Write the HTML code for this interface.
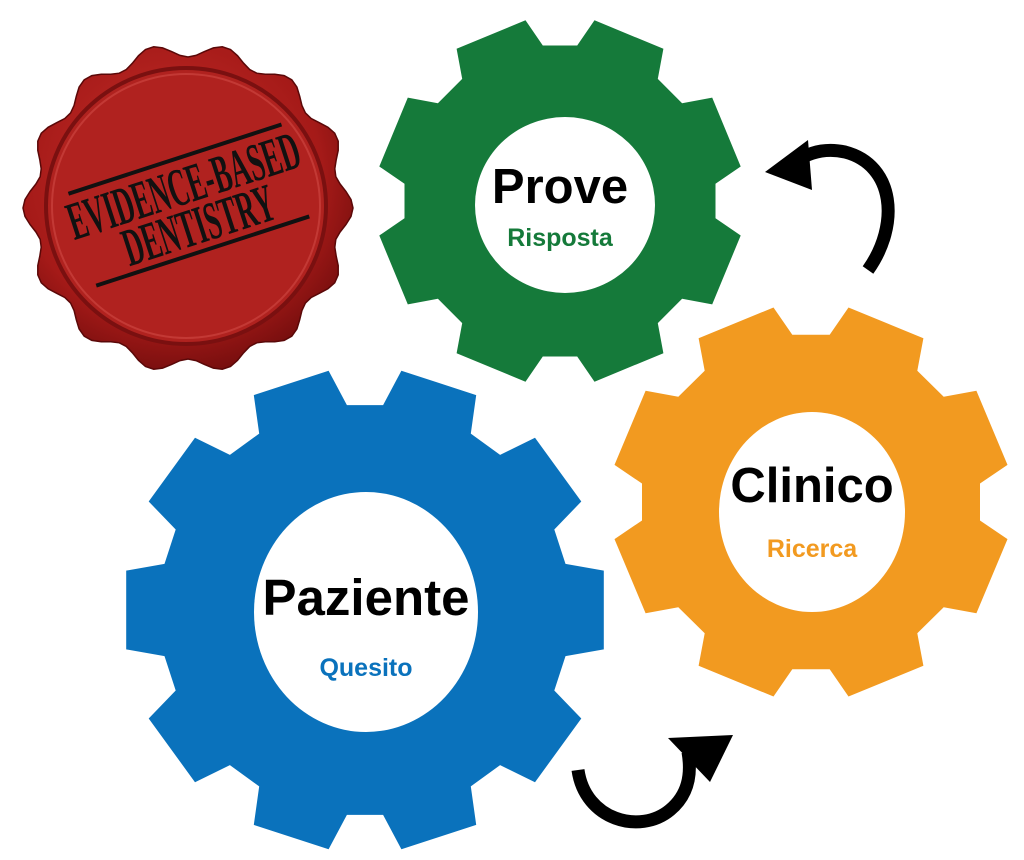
<!DOCTYPE html>
<html><head><meta charset="utf-8"><style>
html,body{margin:0;padding:0;background:#fff;width:1024px;height:860px;overflow:hidden}
svg{display:block}
.t{font-family:"Liberation Sans",Arial,sans-serif;font-weight:bold}
</style></head><body>
<svg id="s" width="1024" height="860" viewBox="0 0 1024 860" xmlns="http://www.w3.org/2000/svg">
<defs>
<radialGradient id="wax" cx="0.45" cy="0.4" r="0.65">
<stop offset="0" stop-color="#c8302c"/><stop offset="0.7" stop-color="#a51a18"/><stop offset="1" stop-color="#6e0c0c"/>
</radialGradient>
</defs>
<path id="seal" fill="url(#wax)" stroke="#5a0808" stroke-width="1.5"/>
<ellipse cx="186" cy="206" rx="140" ry="138" fill="#b0221f" stroke="#7a1010" stroke-width="4"/>
<ellipse cx="186" cy="206" rx="134" ry="132" fill="none" stroke="#d04a44" stroke-width="2" opacity="0.6"/>
<g transform="rotate(-18 186 206)">
<line x1="78" y1="158" x2="302" y2="158" stroke="#111" stroke-width="4"/>
<line x1="76" y1="254" x2="300" y2="254" stroke="#111" stroke-width="4"/>
<text x="190" y="204" text-anchor="middle" font-family="Liberation Serif,serif" font-weight="bold" font-size="54" fill="#111" transform="translate(190 0) scale(0.5 1) translate(-190 0)">EVIDENCE-BASED</text>
<text x="192" y="246" text-anchor="middle" font-family="Liberation Serif,serif" font-weight="bold" font-size="54" fill="#111" transform="translate(192 0) scale(0.5 1) translate(-192 0)">DENTISTRY</text>
</g>
<path id="g1" fill="#157a3a"/>
<path id="g2" fill="#f29a20"/>
<path id="g3" fill="#0a72bc"/>
<ellipse cx="565" cy="205" rx="90" ry="88" fill="#fff"/>
<ellipse cx="812" cy="512" rx="93" ry="100" fill="#fff"/>
<ellipse cx="366" cy="612" rx="112" ry="120" fill="#fff"/>
<text class="t" x="560" y="203" text-anchor="middle" font-size="49" fill="#000">Prove</text>
<text class="t" x="560" y="246" text-anchor="middle" font-size="25" fill="#157a3a">Risposta</text>
<text class="t" x="812" y="502" text-anchor="middle" font-size="49" fill="#000">Clinico</text>
<text class="t" x="812" y="557" text-anchor="middle" font-size="25" fill="#f29a20">Ricerca</text>
<text class="t" x="366" y="615" text-anchor="middle" font-size="51" fill="#000">Paziente</text>
<text class="t" x="366" y="676" text-anchor="middle" font-size="25" fill="#0a72bc">Quesito</text>
<path d="M868 270 C 900 225, 895 165, 845 152 C 822 147, 805 155, 795 162" fill="none" stroke="#000" stroke-width="13"/>
<polygon points="765,172 808,140 812,190" fill="#000"/>
<path d="M578 770 C 585 820, 640 835, 670 810 C 688 795, 692 775, 688 752" fill="none" stroke="#000" stroke-width="13"/>
<polygon points="733,735 668,738 710,782" fill="#000"/>
</svg>
<script>
function gear(cx,cy,rx,ry,n,root,off){
 var p=2*Math.PI/n,pts=[];
 for(var i=0;i<n;i++){
  var a=off+i*p-Math.PI/2;
  var w1=p*0.26,w2=p*0.36;
  [[a-w2,root],[a-w1,1],[a+w1,1],[a+w2,root]].forEach(function(q){
   pts.push([cx+rx*q[1]*Math.cos(q[0]),cy+ry*q[1]*Math.sin(q[0])]);
  });
 }
 return "M"+pts.map(function(q){return q[0].toFixed(1)+" "+q[1].toFixed(1)}).join(" L")+"Z";
}
document.getElementById("g1").setAttribute("d",gear(560,201,184,184,8,0.85,Math.PI/8));
document.getElementById("g2").setAttribute("d",gear(811,502,200,198,8,0.85,Math.PI/8));
document.getElementById("g3").setAttribute("d",gear(365,610,242,242,10,0.85,Math.PI/10));
var s="",N=14;
for(var i=0;i<=360;i+=3){
 var a=i*Math.PI/180,r=158+7*Math.cos(N*a);
 s+=(i?"L":"M")+(188+r*Math.cos(a)).toFixed(1)+" "+(208+r*Math.sin(a)).toFixed(1);
}
document.getElementById("seal").setAttribute("d",s+"Z");
</script>
</body></html>
